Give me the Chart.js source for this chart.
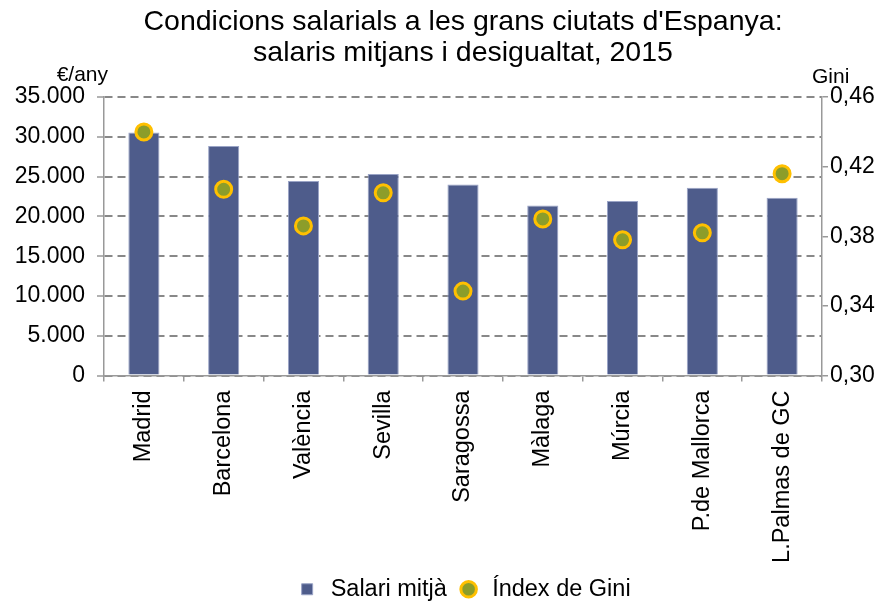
<!DOCTYPE html>
<html>
<head>
<meta charset="utf-8">
<script src="https://cdn.jsdelivr.net/npm/chart.js@4.4.1/dist/chart.umd.min.js"></script>
<style>
  html, body { margin: 0; padding: 0; background: #fff; }
  #wrap { width: 890px; height: 602px; }
</style>
</head>
<body>
<div id="wrap"><canvas id="salaryChart"></canvas></div>
<script>
const cities = ['Madrid', 'Barcelona', 'València', 'Sevilla', 'Saragossa', 'Màlaga', 'Múrcia', 'P.de Mallorca', 'L.Palmas de GC'];
const salaries = [30550, 28850, 24450, 25330, 24030, 21390, 21930, 23600, 22350];
const gini = [0.440, 0.407, 0.386, 0.405, 0.3485, 0.390, 0.378, 0.382, 0.416];
const salaryTicks = [0, 35000, 5000];   // min, max, step
const giniTicks = [0.30, 0.46, 0.04];

const FONT = "'Liberation Sans', Arial, sans-serif";
const gray = '#999999';

// thousands separator with a dot, decimals with a comma
const fmtThousands = v => String(Math.round(v)).replace(/\B(?=(\d{3})+(?!\d))/g, '.');
const fmtGini = v => v.toFixed(2).replace('.', ',');

// unit labels above both axes
const unitLabels = {
  id: 'unitLabels',
  afterDraw(c) {
    const g = c.ctx;
    g.save();
    g.fillStyle = '#000';
    g.font = '21px ' + FONT;
    g.textBaseline = 'alphabetic';
    g.textAlign = 'right';
    g.fillText('€/any', 108, 81);
    g.textAlign = 'left';
    g.fillText('Gini', 812, 83);
    g.restore();
  }
};

const ctx = document.getElementById('salaryChart').getContext('2d');

new Chart(ctx, {
  data: {
    labels: cities,
    datasets: [{
      type: 'bar',
      label: 'Salari mitjà',
      data: salaries,
      backgroundColor: '#4e5c8b',
      borderColor: '#9aa4c6',
      borderWidth: 1,
      barPercentage: 0.39,
      categoryPercentage: 1,
      pointStyle: 'rect',
      yAxisID: 'y',
      order: 2
    }, {
      type: 'line',
      label: 'Índex de Gini',
      data: gini,
      showLine: false,
      pointRadius: 8,
      pointHoverRadius: 8,
      pointBorderWidth: 3,
      pointBackgroundColor: '#8c9d2a',
      pointBorderColor: '#ffc000',
      backgroundColor: '#8c9d2a',
      borderColor: '#ffc000',
      borderWidth: 2.5,
      pointStyle: 'circle',
      yAxisID: 'y1',
      order: 1
    }]
  },
  options: {
    responsive: true,
    maintainAspectRatio: false,
    animation: false,
    layout: { padding: { top: 0, left: 0, right: 0, bottom: -9 } },
    plugins: {
      title: {
        display: true,
        text: ["Condicions salarials a les grans ciutats d'Espanya:", 'salaris mitjans i desigualtat, 2015'],
        color: '#000',
        font: { family: FONT, size: 28.5, weight: 'normal', lineHeight: 1.09 },
        padding: { top: 7, bottom: 28 },
        fullSize: false
      },
      legend: {
        position: 'bottom',
        fullSize: false,
        labels: {
          usePointStyle: true,
          boxHeight: 11,
          color: '#000',
          padding: 10,
          font: { family: FONT, size: 23.5 },
          sort: (a, b) => a.datasetIndex - b.datasetIndex
        }
      },
      tooltip: { enabled: false }
    },
    scales: {
      x: {
        offset: true,
        grid: { drawOnChartArea: false, offset: true, tickLength: 6, color: gray, lineWidth: 1.5 },
        border: { color: gray, width: 1.5 },
        ticks: {
          color: '#000',
          font: { family: FONT, size: 23.5 },
          minRotation: 90,
          maxRotation: 90,
          padding: 9
        },
        afterFit(s) { s.height = 192; }
      },
      y: {
        position: 'left',
        min: salaryTicks[0],
        max: salaryTicks[1],
        grid: { color: '#888888', lineWidth: 2, tickLength: 7, tickColor: gray, tickWidth: 1.5 },
        border: { color: gray, width: 1.5, dash: [8, 5] },
        ticks: {
          stepSize: salaryTicks[2],
          color: '#000',
          padding: 12,
          font: { family: FONT, size: 23 },
          callback: v => fmtThousands(v)
        },
        afterFit(s) { s.width = 104; }
      },
      y1: {
        position: 'right',
        min: giniTicks[0],
        max: giniTicks[1],
        grid: { drawOnChartArea: false, tickLength: 6, color: gray, lineWidth: 1.5 },
        border: { color: gray, width: 1.5 },
        ticks: {
          stepSize: giniTicks[2],
          color: '#000',
          padding: 2,
          font: { family: FONT, size: 23 },
          callback: v => fmtGini(v)
        },
        afterFit(s) { s.width = 68; }
      }
    }
  },
  plugins: [unitLabels]
});
</script>
</body>
</html>
